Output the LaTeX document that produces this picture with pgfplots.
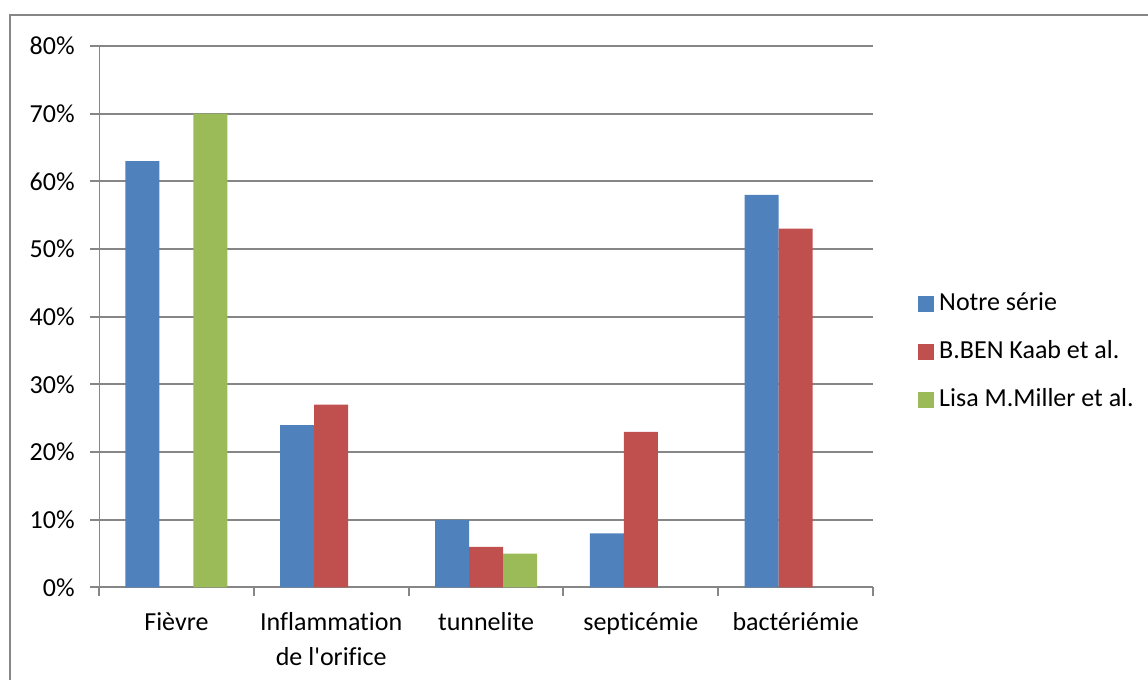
\documentclass[border=0pt]{standalone}
\usepackage{fontspec}
\setmainfont{Carlito}[Ligatures={NoCommon}]
\usepackage{pgfplots}
\pgfplotsset{compat=1.18}
\definecolor{cblue}{HTML}{4F81BD}
\definecolor{cred}{HTML}{C0504D}
\definecolor{cgreen}{HTML}{9BBB59}
\definecolor{cgrid}{HTML}{868686}
\newcommand{\lblfont}{\fontsize{19.5}{26.5}\selectfont}
\begin{document}
\begin{tikzpicture}
\useasboundingbox (0,0) rectangle (861pt,510pt);
\draw[cgrid,line width=1.5pt] (863pt,498.75pt) -- (7.5pt,498.75pt) -- (7.5pt,-2pt);
\begin{axis}[
  at={(74.25pt,69.4pt)}, anchor=south west,
  scale only axis,
  width=580.5pt, height=406.1pt,
  ybar=0pt, bar width=25.5pt,
  xmin=-0.5, xmax=4.5,
  ymin=0, ymax=80,
  ytick={0,10,...,80},
  yticklabel={\pgfmathprintnumber{\tick}\%},
  /pgf/number format/assume math mode=true,
  ymajorgrids,
  grid style={cgrid,line width=1.5pt},
  axis line style={draw=none},
  tick align=outside,
  tick pos=left,
  major tick length=6.75pt,
  tick style={cgrid,line width=1.5pt},
  xtick={-0.5,0.5,...,4.5},
  xticklabels={},
  extra x ticks={0,1,2,3,4},
  extra x tick labels={Fièvre,Inflammation\\de l\textquotesingle orifice,tunnelite,septicémie,bactériémie},
  extra x tick style={major tick length=0pt, tick style={draw=none},
     xticklabel style={font=\lblfont, align=center, anchor=north, yshift=-15pt}},
  yticklabel style={font=\lblfont, anchor=east, xshift=-8pt},
  legend image code/.code={\fill[#1] (0pt,-6pt) rectangle (12pt,6pt);},
  legend cell align=left,
  legend style={at={(rel axis cs:1.0525,0.435)}, anchor=west, draw=none, fill=none,
     font=\lblfont, row sep=18pt,
     nodes={inner sep=0pt, text height=14pt, text depth=4pt},
     /tikz/every odd column/.append style={column sep=4pt}},
]
\addplot[fill=cblue, draw=none] coordinates {(0,63) (1,24) (2,10) (3,8) (4,58)};
\addplot[fill=cred, draw=none] coordinates {(1,27) (2,6) (3,23) (4,53)};
\addplot[fill=cgreen, draw=none] coordinates {(0,70) (2,5)};
\legend{Notre série, B.BEN Kaab et al., Lisa M.Miller et al.}
\draw[cgrid,line width=1.5pt] (rel axis cs:0,0) -- (rel axis cs:0,1);
\end{axis}
\end{tikzpicture}
\end{document}
